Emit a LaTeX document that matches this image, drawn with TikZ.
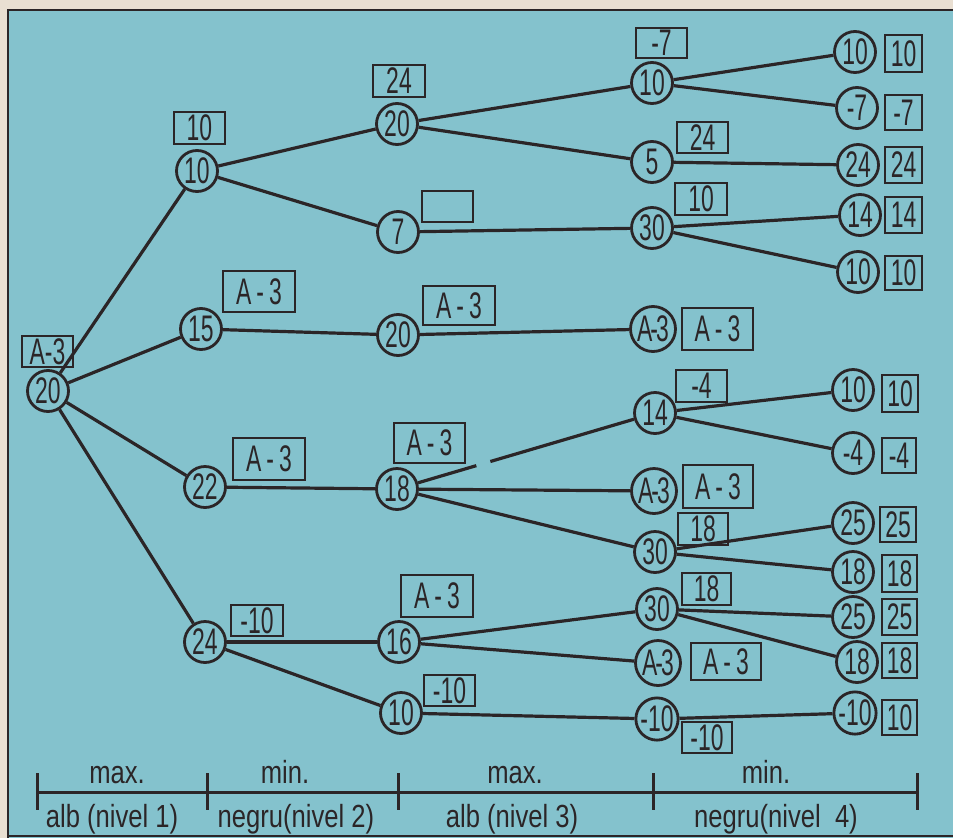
\documentclass[tikz,border=0pt]{standalone}
\usepackage{fontspec}
\setmainfont{Liberation Sans}[FakeStretch=0.62]
\newfontfamily\labfont{Liberation Sans}[FakeStretch=0.8]
\definecolor{paper}{HTML}{E9DFD2}
\definecolor{sea}{HTML}{84C2CD}
\definecolor{ink}{HTML}{2B2527}
\tikzset{
 nd/.style={circle, draw=ink, line width=2.8pt, minimum size=41pt, inner sep=0pt, text=ink, font=\fontsize{37}{37}\selectfont},
 bigc/.style={nd, minimum size=45pt},
 bx/.style={rectangle, draw=ink, line width=2.8pt, inner sep=0pt, text=ink, font=\fontsize{37}{37}\selectfont},
 ed/.style={draw=ink, line width=3.2pt},
 lab/.style={text=ink, font=\labfont\fontsize{32}{32}\selectfont, inner sep=0pt, anchor=base},
 scaleline/.style={draw=ink, line width=3pt},
}
\newcommand{\bxn}[6]{\node[bx, minimum width={(#4-#2)*1pt}, minimum height={(#5-#3)*1pt}] (#1) at ({(#2+#4)/2},{(#3+#5)/2}) {#6};}
\newcommand{\At}{A\hspace{5pt}-\hspace{5pt}3}
\newcommand{\Ac}{A\kern-2pt-\kern-2pt3}
\begin{document}
\begin{tikzpicture}[x=1pt,y=-1pt]
\useasboundingbox (0,0) rectangle (953,838);
\fill[paper] (0,0) rectangle (953,838);
\fill[sea] (8,10) rectangle (953,838);
\draw[ink, line width=2.4pt] (953,10) -- (8,10) -- (8,838);
\draw[ink, line width=2.4pt] (8,836) -- (953,836);

% circles
\node[nd] (r) at (48,391) {20};
\node[nd] (a1) at (197,171) {10};
\node[nd] (a2) at (201,329) {15};
\node[nd] (a3) at (205,487) {22};
\node[nd] (a4) at (205,642) {24};
\node[nd] (b1) at (397,124) {20};
\node[nd] (b2) at (398,232) {7};
\node[nd] (b3) at (398,335) {20};
\node[nd] (b4) at (397,489) {18};
\node[nd] (b5) at (399,642) {16};
\node[nd] (b6) at (401,713) {10};
\node[nd] (c1) at (652,83) {10};
\node[nd] (c2) at (652,162) {5};
\node[nd] (c3) at (652,228) {30};
\node[bigc] (c4) at (653,329) {\Ac};
\node[nd] (c5) at (655,413) {14};
\node[bigc] (c6) at (654,491) {\Ac};
\node[nd] (c7) at (655,552) {30};
\node[nd] (c8) at (657,609) {30};
\node[bigc] (c9) at (658,663) {\Ac};
\node[nd] (c10) at (657,719) {-10};
\node[nd] (d1) at (855,52) {10};
\node[nd] (d2) at (857,108) {-7};
\node[nd] (d3) at (858,165) {24};
\node[nd] (d4) at (860,215) {14};
\node[nd] (d5) at (858,272) {10};
\node[nd] (d6) at (853,390) {10};
\node[nd] (d7) at (853,453) {-4};
\node[nd] (d8) at (853,523) {25};
\node[nd] (d9) at (853,572) {18};
\node[nd] (d10) at (853,617) {25};
\node[nd] (d11) at (857,662) {18};
\node[nd] (d12) at (855,713) {-10};

% boxes
\bxn{br}{22}{336}{73}{367}{A-3}
\bxn{ba1}{174}{112}{225}{144}{10}
\bxn{ba2}{223}{271}{295}{312}{\At}
\bxn{ba3}{233}{438}{305}{480}{\At}
\bxn{ba4}{231}{605}{283}{636}{-10}
\bxn{bb1}{373}{65}{425}{97}{24}
\bxn{bb2}{422}{191}{473}{222}{}
\bxn{bb3}{423}{286}{495}{325}{\At}
\bxn{bb4}{394}{423}{465}{463}{\At}
\bxn{bb5}{401}{575}{473}{617}{\At}
\bxn{bb6}{424}{675}{475}{706}{-10}
\bxn{bc1}{636}{28}{687}{58}{-7}
\bxn{bc2}{677}{122}{728}{153}{24}
\bxn{bc3}{675}{183}{727}{215}{10}
\bxn{bc4}{682}{308}{753}{350}{\At}
\bxn{bc5}{676}{370}{727}{402}{-4}
\bxn{bc6}{683}{465}{753}{508}{\At}
\bxn{bc7}{678}{513}{728}{545}{18}
\bxn{bc8}{682}{573}{731}{605}{18}
\bxn{bc9}{691}{643}{761}{680}{\At}
\bxn{bc10}{682}{722}{732}{753}{-10}
\bxn{bd1}{885}{35}{922}{72}{10}
\bxn{bd2}{885}{95}{922}{130}{-7}
\bxn{bd3}{885}{147}{922}{183}{24}
\bxn{bd4}{885}{197}{922}{233}{14}
\bxn{bd5}{885}{256}{922}{290}{10}
\bxn{bd6}{882}{375}{918}{412}{10}
\bxn{bd7}{882}{438}{916}{473}{-4}
\bxn{bd8}{880}{507}{916}{542}{25}
\bxn{bd9}{882}{555}{917}{592}{18}
\bxn{bd10}{882}{599}{917}{635}{25}
\bxn{bd11}{882}{643}{917}{678}{18}
\bxn{bd12}{882}{700}{917}{735}{10}

% edges
\foreach \u/\v in {r/a1, r/a2, r/a3, r/a4, a1/b1, a1/b2, a2/b3, a3/b4, a4/b5, a4/b6,
  b1/c1, b1/c2, b2/c3, b3/c4, b4/c6, b4/c7, b5/c8, b5/c9, b6/c10,
  c1/d1, c1/d2, c2/d3, c3/d4, c3/d5, c5/d6, c5/d7, c7/d8, c7/d9, c8/d10, c8/d11, c10/d12}
  \draw[ed] (\u) -- (\v);
\path (b4) -- (c5) coordinate[pos=0.27] (g1) coordinate[pos=0.335] (g2);
\draw[ed] (b4) -- (g1);
\draw[ed] (g2) -- (c5);

% scale
\coordinate (s0) at (37,792);
\coordinate (s1) at (207,792);
\coordinate (s2) at (398,792);
\coordinate (s3) at (653,792);
\coordinate (s4) at (917,792);
\draw[scaleline] (s0) -- (s4);
\foreach \s in {s0,s1,s2,s3,s4}
  \draw[scaleline] ([yshift=19pt]\s) -- ([yshift=-18pt]\s);
\node[lab] (m1) at (117,783) {max.};
\node[lab] (m2) at (285,783) {min.};
\node[lab] (m3) at (515,783) {max.};
\node[lab] (m4) at (766,783) {min.};
\node[lab] (l1) at (112,827) {alb (nivel 1)};
\node[lab] (l2) at (296,827) {negru(nivel 2)};
\node[lab] (l3) at (512,827) {alb (nivel 3)};
\node[lab] (l4) at (776,827) {negru(nivel\ \ 4)};
\end{tikzpicture}
\end{document}
